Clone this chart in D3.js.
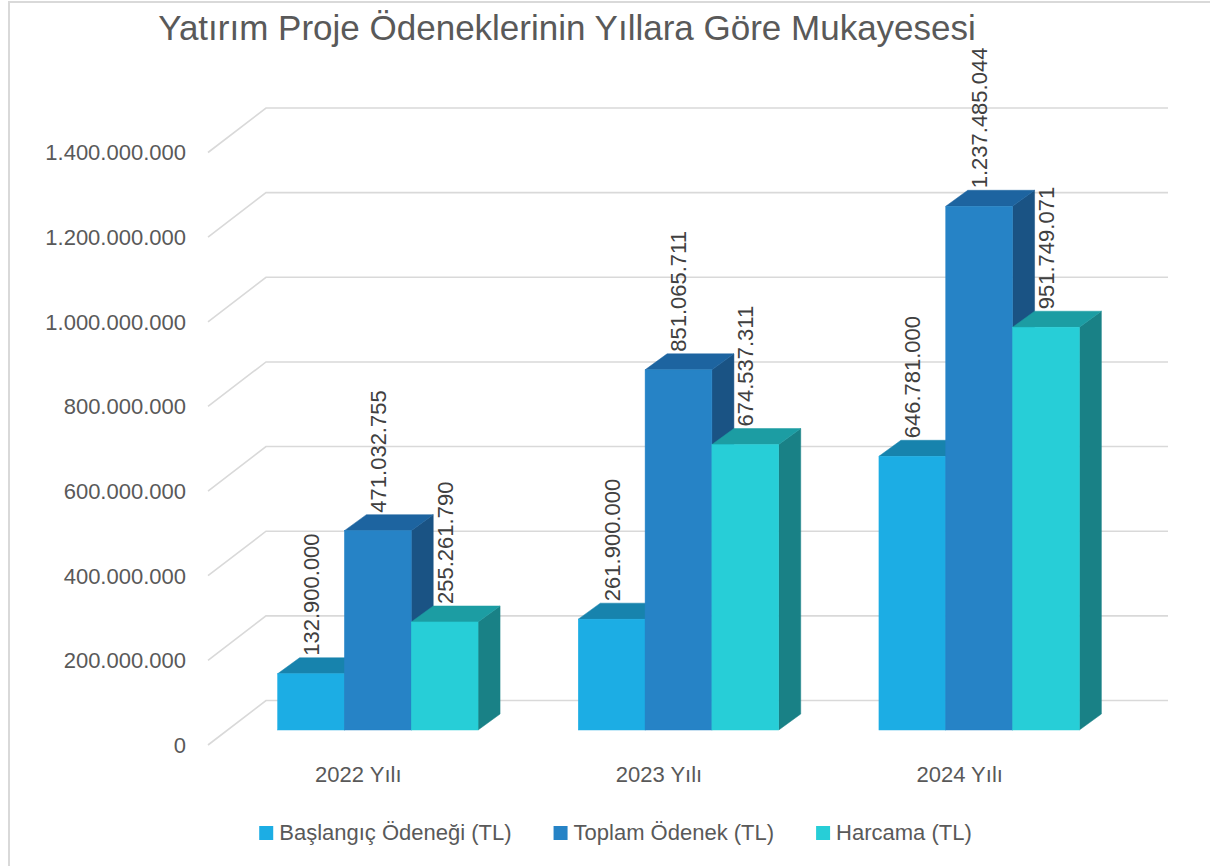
<!DOCTYPE html>
<html><head><meta charset="utf-8">
<script src="https://cdn.jsdelivr.net/npm/d3@7"></script>
<style>
html,body{margin:0;padding:0;background:#fff;}
svg{display:block;font-family:"Liberation Sans",Arial,sans-serif;}
</style></head>
<body>
<svg id="chart" width="1210" height="866"></svg>
<script>
const title = "Yatırım Proje Ödeneklerinin Yıllara Göre Mukayesesi";
const categories = ["2022 Yılı", "2023 Yılı", "2024 Yılı"];
const seriesNames = ["Başlangıç Ödeneği (TL)", "Toplam Ödenek (TL)", "Harcama (TL)"];
const baslangic = [132900000, 261900000, 646781000];
const toplam = [471032755, 851065711, 1237485044];
const harcama = [255261790, 674537311, 951749071];
const yTicks = [0, 200000000, 400000000, 600000000, 800000000, 1000000000, 1200000000, 1400000000];
const frontColors = ["#1CADE4", "#2683C6", "#27CED7"];
const topColors = ["#1783AD", "#1D64A0", "#1C9DA3"];
const sideColors = ["#146F94", "#1A5384", "#198186"];

const seriesValues = [baslangic, toplam, harcama];
const svg = d3.select("#chart");
const loc = d3.formatLocale({decimal: ",", thousands: ".", grouping: [3], currency: ["", ""]});
const fmt = loc.format(",d");

// border
svg.append("path").attr("d", "M9,866 L9,2 L1210,2")
  .attr("fill", "none").attr("stroke", "#d9d9d9").attr("stroke-width", 2);

// title
svg.append("text").attr("x", 567).attr("y", 40).attr("text-anchor", "middle")
  .attr("font-size", 35).attr("fill", "#595959").text(title);

// geometry
const depthX = 58, depthY = 44.5;       // floor depth vector
const fX = 19.5, fY = 15;               // bar front offset into depth
const bX = 22, bY = 16;                 // bar depth
const y = d3.scaleLinear().domain([0, 1400000000]).range([745, 152.5]);
const x0 = d3.scaleBand().domain(categories).range([208, 1110]);
const x1 = d3.scaleBand().domain(seriesNames).range([0, x0.bandwidth()]).paddingInner(0).paddingOuter(0.75);

// gridlines (side + back wall)
const grid = svg.append("g").attr("stroke", "#d9d9d9").attr("stroke-width", 1.6).attr("fill", "none");
yTicks.forEach(t => {
  const yy = y(t);
  grid.append("path").attr("d", `M${x0.range()[0]},${yy} L${x0.range()[0] + depthX},${yy - depthY} L${x0.range()[1] + depthX},${yy - depthY}`);
});

// y axis labels
svg.append("g").selectAll("text").data(yTicks).join("text")
  .attr("x", 186).attr("y", d => y(d)).attr("dy", "0.36em")
  .attr("text-anchor", "end").attr("font-size", 22).attr("fill", "#595959")
  .text(d => fmt(d));

// category labels
svg.append("g").selectAll("text").data(categories).join("text")
  .attr("x", d => x0(d) + x0.bandwidth() / 2).attr("y", 782)
  .attr("text-anchor", "middle").attr("font-size", 22).attr("fill", "#595959")
  .text(d => d);

// bars
const bars = svg.append("g");
const labels = [];
categories.forEach((c, ci) => {
  seriesNames.forEach((s, si) => {
    const v = seriesValues[si][ci];
    const xl = x0(c) + x1(s) + fX;
    const xr = xl + x1.bandwidth();
    const yb = y(0) - fY;
    const yt = y(v) - fY;
    const g = bars.append("g");
    g.append("polygon")
      .attr("points", [[xr, yt], [xr + bX, yt - bY], [xr + bX, yb - bY], [xr, yb]].map(p => p.join(",")).join(" "))
      .attr("fill", sideColors[si]).attr("stroke", sideColors[si]).attr("stroke-width", 0.5);
    g.append("polygon")
      .attr("points", [[xl, yt], [xl + bX, yt - bY], [xr + bX, yt - bY], [xr, yt]].map(p => p.join(",")).join(" "))
      .attr("fill", topColors[si]).attr("stroke", topColors[si]).attr("stroke-width", 0.5);
    g.append("rect").attr("x", xl).attr("y", yt).attr("width", xr - xl).attr("height", yb - yt)
      .attr("fill", frontColors[si]).attr("stroke", frontColors[si]).attr("stroke-width", 0.5);
    labels.push({x: (xl + xr) / 2, y: yt - bY - 2, v});
  });
});

// data labels
svg.append("g").selectAll("text").data(labels).join("text")
  .attr("transform", d => `translate(${d.x},${d.y}) rotate(-90)`)
  .attr("dy", "0.36em").attr("text-anchor", "start")
  .attr("font-size", 22).attr("fill", "#404040")
  .text(d => fmt(d.v));

// legend
const leg = svg.append("g");
let lx = 0;
const items = [];
seriesNames.forEach((s, i) => {
  const g = leg.append("g");
  g.append("rect").attr("x", lx).attr("y", 826).attr("width", 14).attr("height", 14).attr("fill", frontColors[i]);
  const t = g.append("text").attr("x", lx + 20).attr("y", 840).attr("font-size", 22).attr("fill", "#595959").text(s);
  const w = t.node().getComputedTextLength();
  lx += 20 + w + 42;
});
const totalW = lx - 42;
leg.attr("transform", `translate(${615.5 - totalW / 2},0)`);
</script>
</body></html>
